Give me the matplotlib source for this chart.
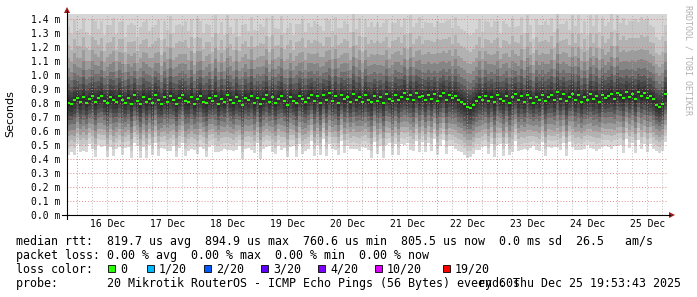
import numpy as np
import pandas as pd
import matplotlib
matplotlib.use('Agg')
import matplotlib.pyplot as plt
import matplotlib.dates as mdates
from matplotlib.lines import Line2D
from matplotlib.patches import Polygon, Rectangle

# median rtt, microseconds, one value per ~72 minutes (Dec 15 19:53 -> Dec 25 19:53)
median_us = [
    800, 792, 818, 836, 805, 842, 798, 826, 848, 808, 835, 852, 815, 797, 840, 822, 806, 849, 818, 800,
    838, 796, 856, 812, 790, 845, 808, 831, 799, 858, 818, 792, 842, 806, 850, 822, 795, 836, 855, 812,
    804, 846, 790, 828, 852, 808, 798, 838, 815, 849, 791, 832, 805, 855, 820, 797, 844, 812, 789, 836,
    818, 850, 800, 838, 792, 826, 858, 806, 843, 798, 832, 853, 812, 788, 846, 816, 801, 852, 826, 805,
    836, 860, 812, 848, 802, 856, 822, 868, 814, 850, 798, 858, 826, 846, 810, 864, 820, 842, 806, 854,
    822, 804, 852, 816, 840, 800, 862, 832, 812, 856, 824, 846, 868, 830, 858, 818, 872, 840, 852, 824,
    860, 828, 866, 816, 850, 874, 822, 856, 834, 852, 820, 808, 790, 770, 766, 788, 816, 842, 820, 852,
    816, 846, 806, 860, 830, 812, 852, 800, 840, 862, 818, 848, 808, 858, 834, 802, 846, 824, 860, 812,
    840, 854, 818, 882, 830, 862, 812, 846, 866, 822, 856, 804, 842, 818, 862, 828, 852, 810, 860, 838,
    850, 864, 828, 872, 854, 836, 876, 846, 866, 830, 880, 852, 868, 838, 850, 826, 788, 772, 790, 862,
]

# width of the ping spread around the median, percent of typical
spread_pct = [
    104, 96, 110, 92, 101, 108, 98, 89, 106, 111, 95, 103, 90, 108, 99, 112, 94, 102, 109, 91,
    100, 110, 97, 89, 107, 102, 112, 93, 105, 96, 111, 88, 104, 99, 110, 92, 108, 101, 95, 110,
    98, 106, 91, 111, 103, 94, 109, 100, 88, 112, 97, 105, 93, 110, 101, 96, 107, 90, 109, 102,
    95, 108, 100, 92, 110, 99, 105, 89, 111, 103, 96, 109, 94, 106, 101, 91, 109, 98, 110, 97,
    103, 93, 110, 99, 106, 88, 112, 101, 96, 109, 104, 92, 107, 100, 95, 110, 98, 109, 90, 105,
    100, 111, 94, 107, 97, 110, 102, 90, 108, 99, 111, 95, 104, 89, 110, 101, 96, 110, 93, 106,
    98, 104, 92, 110, 100, 95, 109, 103, 97, 108, 102, 100, 101, 102, 100, 99, 99, 107, 94, 102,
    108, 96, 111, 101, 91, 110, 98, 105, 109, 93, 102, 109, 95, 110, 100, 88, 107, 103, 96, 110,
    99, 106, 94, 112, 103, 97, 111, 92, 108, 101, 110, 96, 104, 90, 109, 100, 111, 95, 105, 98,
    102, 110, 95, 107, 99, 110, 93, 104, 100, 109, 96, 108, 101, 110, 97, 100, 93, 92, 94, 95,
]

# smoke layers (outermost -> innermost), distance below / above the median in ms
smoke_below = [0.355, 0.310, 0.270, 0.230, 0.190, 0.150, 0.115, 0.085, 0.055, 0.025]
smoke_above = [0.800, 0.520, 0.400, 0.310, 0.240, 0.180, 0.130, 0.090, 0.055, 0.025]
smoke_colors = ['#d6d6d6', '#c6c6c6', '#b2b2b2', '#9c9c9c', '#858585',
                '#6e6e6e', '#585858', '#464646', '#383838', '#2c2c2c']

days = [16, 17, 18, 19, 20, 21, 22, 23, 24, 25]
y_ticks = [0.0, 0.1, 0.2, 0.3, 0.4, 0.5, 0.6, 0.7, 0.8, 0.9, 1.0, 1.1, 1.2, 1.3, 1.4]

loss_labels = ['0', '1/20', '2/20', '3/20', '4/20', '10/20', '19/20']
loss_colors = ['#26ff00', '#00b8ff', '#0059ff', '#5e00ff', '#7e00ff', '#dd00ff', '#ff0000']

W, H = 697, 297


def fx(x):
    return x / W


def fy(y):
    return 1 - y / H


mono = 'DejaVu Sans Mono'

fig = plt.figure(figsize=(W / 100, H / 100), dpi=100)
ax = fig.add_axes([fx(67), 82 / H, 600 / W, 201 / H])

start = pd.Timestamp('2025-12-15 19:53:43')
end = pd.Timestamp('2025-12-25 19:53:43')
edges = mdates.date2num(pd.date_range(start, end, periods=len(median_us) + 1).to_pydatetime())
median = np.array(median_us) / 1000.0
spread = np.array(spread_pct) / 100.0

for below, above, c in zip(smoke_below, smoke_above, smoke_colors):
    lo = median - below * spread
    hi = median + above * spread
    ax.stairs(hi, edges, baseline=lo, fill=True, color=c, lw=0, zorder=1)

ax.hlines(median, edges[:-1], edges[1:], colors='#26ff00', lw=1.5, zorder=4)

ax.set_xlim(edges[0], edges[-1])
ax.set_ylim(0, 201 / 140)

# grid
for v in y_ticks[1:]:
    ax.axhline(v, color='#e07070', lw=0.7, ls=(0, (1, 2)), alpha=0.8, zorder=3)
midnights = [mdates.date2num(pd.Timestamp(2025, 12, d)) for d in days]
for m in midnights:
    ax.axvline(m, color='#e07070', lw=0.7, ls=(0, (1, 2)), alpha=0.8, zorder=3)
for m in [mdates.date2num(pd.Timestamp(2025, 12, 15))] + midnights:
    for h in (6, 12, 18):
        t = m + h / 24
        if edges[0] < t < edges[-1]:
            ax.axvline(t, color='#a8a8a8', lw=0.7, ls=(0, (1, 2)), alpha=0.8, zorder=3)

ax.set_yticks(y_ticks)
ax.set_yticklabels([f'{v:.1f} m' for v in y_ticks], family=mono, fontsize=7)
ax.set_xticks([m + 0.5 for m in midnights])
ax.set_xticklabels([f'{d} Dec' for d in days], family=mono, fontsize=7)
ax.tick_params(axis='y', length=0, pad=5)
ax.tick_params(axis='x', length=0, pad=3)
for s in ax.spines.values():
    s.set_visible(False)

# axes with arrows
fig.add_artist(Line2D([fx(62), fx(670)], [fy(215), fy(215)], color='black', lw=0.8))
fig.add_artist(Line2D([fx(67), fx(67)], [fy(219), fy(11)], color='black', lw=0.8))
fig.add_artist(Polygon([(fx(64), fy(13)), (fx(70), fy(13)), (fx(67), fy(7))],
                       closed=True, color='#a01818', lw=0))
fig.add_artist(Polygon([(fx(669), fy(212)), (fx(669), fy(218)), (fx(675), fy(215))],
                       closed=True, color='#a01818', lw=0))

fig.text(fx(10), fy(114), 'Seconds', rotation=90, ha='center', va='center',
         fontsize=8, family='DejaVu Sans')
fig.text(fx(688), fy(5), 'RRDTOOL / TOBI OETIKER', rotation=270, ha='center', va='top',
         fontsize=6, family=mono, color='#b0b0b0')

# legend block
fs = 8.4
fig.text(fx(16), fy(245), 'median rtt:  819.7 us avg  894.9 us max  760.6 us min  '
         '805.5 us now  0.0 ms sd  26.5   am/s', family=mono, fontsize=fs, va='baseline')
fig.text(fx(16), fy(259), 'packet loss: 0.00 % avg  0.00 % max  0.00 % min  0.00 % now',
         family=mono, fontsize=fs, va='baseline')
fig.text(fx(16), fy(273), 'loss color:', family=mono, fontsize=fs, va='baseline')
box_x = [108, 147, 204, 261, 318, 375, 443]
for bx, lab, c in zip(box_x, loss_labels, loss_colors):
    fig.add_artist(Rectangle((fx(bx), fy(272)), 7 / W, 7 / H, facecolor=c,
                             edgecolor='black', lw=0.6))
    fig.text(fx(bx + 12), fy(273), lab, family=mono, fontsize=fs, va='baseline')
fig.text(fx(16), fy(287), 'probe:       20 Mikrotik RouterOS - ICMP Echo Pings (56 Bytes) every 60s',
         family=mono, fontsize=fs, va='baseline')
fig.text(fx(681), fy(287), 'end: Thu Dec 25 19:53:43 2025', family=mono, fontsize=fs,
         va='baseline', ha='right')

fig.savefig('out.png', dpi=100, facecolor='white')
